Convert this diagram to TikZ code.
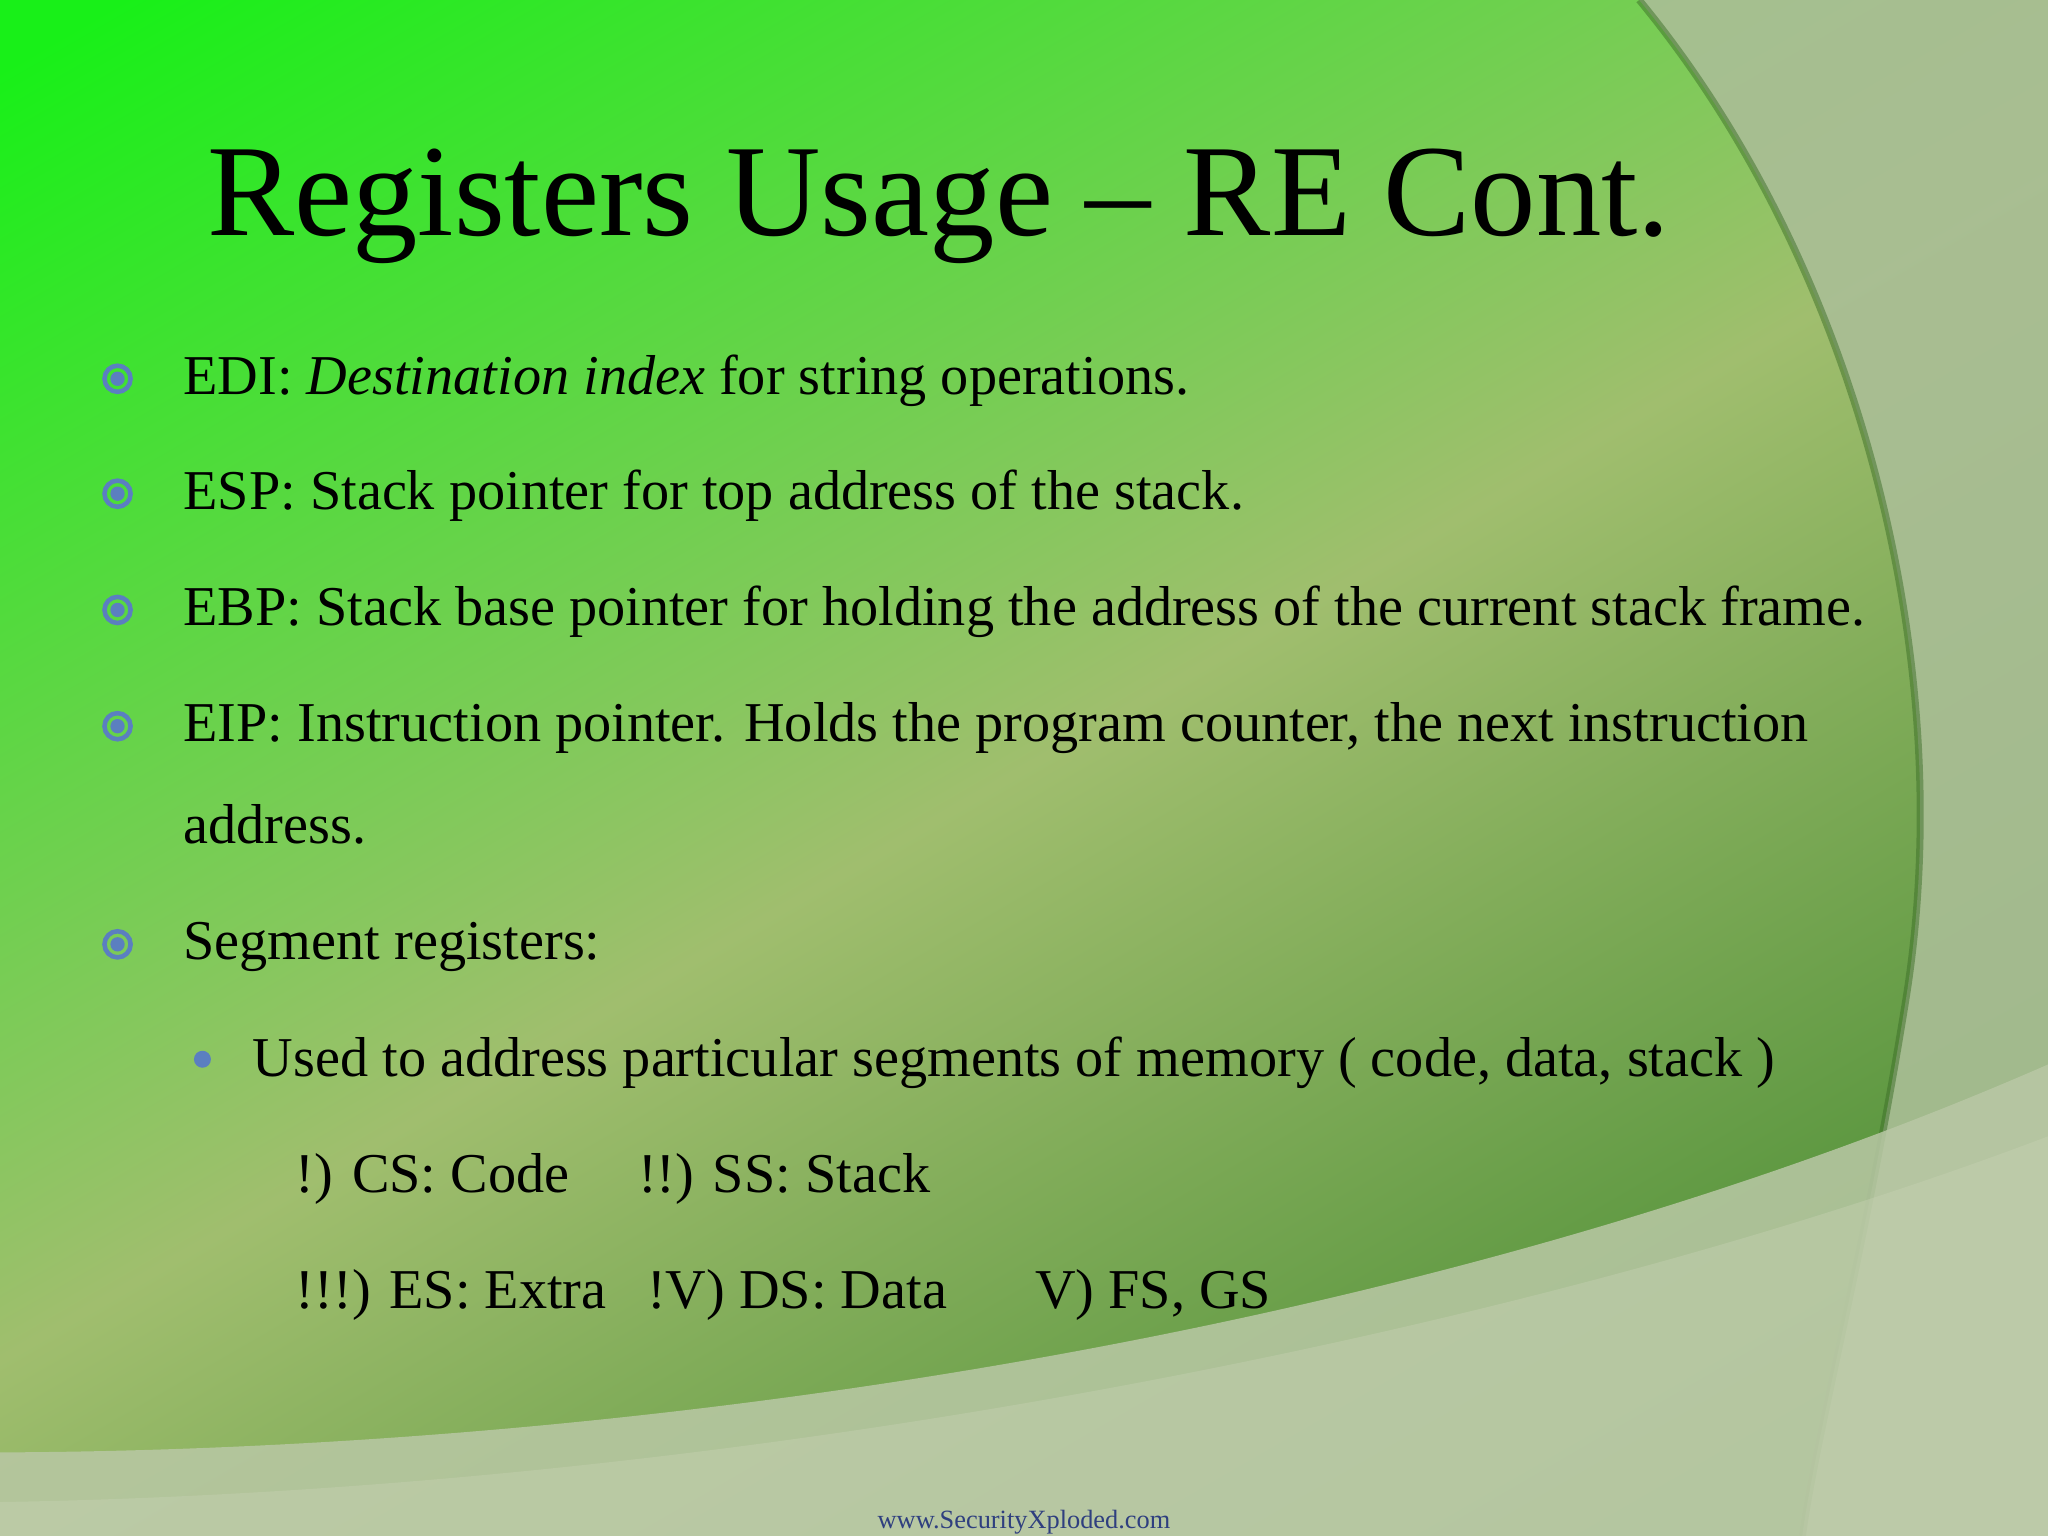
\documentclass[tikz,border=0pt]{standalone}
\usepackage{fontspec}
\setmainfont{Liberation Serif}
\usetikzlibrary{fadings}
\definecolor{bul}{HTML}{5B7FC0}
\definecolor{url}{HTML}{2F3F7F}
\definecolor{gA}{HTML}{18F018}
\definecolor{gB}{HTML}{A0BE6E}
\definecolor{gC}{HTML}{3E862C}
\definecolor{gE}{HTML}{AABE96}
\definecolor{gF}{HTML}{B9C8A5}
\definecolor{gG}{HTML}{C8D2B4}
\definecolor{gH}{HTML}{3C6E28}
\begin{document}
\begin{tikzpicture}[x=0.01306cm,y=-0.01306cm,
  body/.style={anchor=base west,font=\fontsize{16}{18}\selectfont,inner sep=0}]
\useasboundingbox (0,0) rectangle (1568,1176);
\shade[left color=gA, right color=gC, middle color=gB, shading angle=30] (-200,-200) rectangle (1768,1376);
\fill[gE, opacity=0.9] (1255,0) .. controls (1420,200) and (1500,500) .. (1460,760) .. controls (1430,950) and (1390,1100) .. (1380,1176) -- (1568,1176) -- (1568,0) -- cycle;
\draw[gH, line width=2, opacity=0.5] (1255,0) .. controls (1420,200) and (1500,500) .. (1460,760) .. controls (1430,950) and (1390,1100) .. (1380,1176);
\fill[gF, opacity=0.85] (0,1112) .. controls (500,1110) and (1100,1020) .. (1568,815) -- (1568,1176) -- (0,1176) -- cycle;
\fill[gG, opacity=0.4] (0,1150) .. controls (600,1140) and (1200,1010) .. (1568,870) -- (1568,1176) -- (0,1176) -- cycle;
\node[anchor=base west,inner sep=0,font=\fontsize{37.2}{44}\selectfont] (title) at (158,180) {Registers Usage -- RE Cont.};
\foreach \y in {290,378,467,556,723}{
  \draw[bul,line width=1.3] (90,\y) circle (10);
  \fill[bul] (90,\y) circle (5.5);
}
\node[body] (t1) at (140,302) {EDI: \textit{Destination index} for string operations.};
\node[body] (t2) at (140,390) {ESP: Stack pointer for top address of the stack.};
\node[body] (t3) at (140,479) {EBP: Stack base pointer for holding the address of the current stack frame.};
\node[body] (t4) at (140,568) {EIP: Instruction pointer. Holds the program counter, the next instruction};
\node[body] (t4b) at (140,646) {address.};
\node[body] (t5) at (140,735) {Segment registers:};
\fill[bul] (155,811) circle (6.5);
\node[body] (t6) at (193,824) {Used to address particular segments of memory ( code, data, stack )};
\node[body] (t7) at (226,913) {!) CS: Code};
\node[body] (t8) at (488,913) {!!) SS: Stack};
\node[body] (t9) at (226,1002) {!!!) ES: Extra};
\node[body] (t10) at (495,1002) {!V) DS: Data};
\node[body] (t11) at (792,1002) {V) FS, GS};
\node[anchor=base,inner sep=0,font=\fontsize{7.5}{9}\selectfont,text=url] (u) at (784,1170) {www.SecurityXploded.com};
\end{tikzpicture}
\end{document}
